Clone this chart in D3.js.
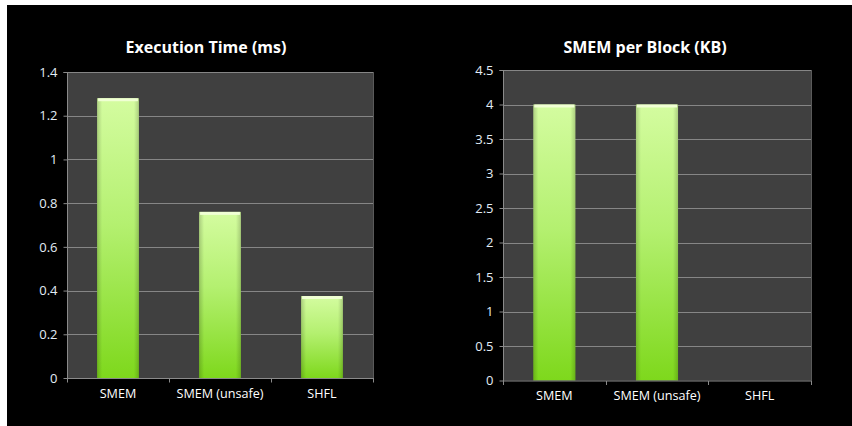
<!DOCTYPE html>
<html>
<head>
<meta charset="utf-8">
<script src="https://cdn.jsdelivr.net/npm/d3@7"></script>
<style>
  html, body { margin: 0; padding: 0; background: #ffffff; }
  svg { display: block; }
</style>
</head>
<body>
<svg id="chart" width="852" height="426"></svg>
<script>
// ---- data ----
const categories = ["SMEM", "SMEM (unsafe)", "SHFL"];
const execTime = [1.28, 0.76, 0.375];
const smemPerBlock = [4, 4, 0];
const execTicks = [0, 0.2, 0.4, 0.6, 0.8, 1, 1.2, 1.4];
const smemTicks = [0, 0.5, 1, 1.5, 2, 2.5, 3, 3.5, 4, 4.5];
const titles = ["Execution Time (ms)", "SMEM per Block (KB)"];

const svg = d3.select("#chart");
svg.append("rect").attr("x", 7).attr("y", 5).attr("width", 845).attr("height", 421).attr("fill", "#000000");

const defs = svg.append("defs");
const grad = defs.append("linearGradient").attr("id", "barGrad")
  .attr("x1", 0).attr("y1", 0).attr("x2", 0).attr("y2", 1);
grad.append("stop").attr("offset", "0%").attr("stop-color", "#d4fca0");
grad.append("stop").attr("offset", "45%").attr("stop-color", "#b4f070");
grad.append("stop").attr("offset", "100%").attr("stop-color", "#7ed81c");
const sideGrad = defs.append("linearGradient").attr("id", "sideGrad")
  .attr("x1", 0).attr("y1", 0).attr("x2", 1).attr("y2", 0);
sideGrad.append("stop").attr("offset", "0%").attr("stop-color", "#000").attr("stop-opacity", 0.18);
sideGrad.append("stop").attr("offset", "12%").attr("stop-color", "#000").attr("stop-opacity", 0);
sideGrad.append("stop").attr("offset", "88%").attr("stop-color", "#000").attr("stop-opacity", 0);
sideGrad.append("stop").attr("offset", "100%").attr("stop-color", "#000").attr("stop-opacity", 0.18);

const font = "'Open Sans', 'DejaVu Sans', sans-serif";

function drawChart(cfg) {
  const {x0, x1, y0, y1, values, ticks, max, title, titleX, fmt} = cfg;
  const g = svg.append("g");
  const x = d3.scaleBand().domain(categories).range([x0, x1]).paddingInner(0).paddingOuter(0);
  const y = d3.scaleLinear().domain([0, max]).range([y1, y0]);

  g.append("rect").attr("x", x0).attr("y", y0).attr("width", x1 - x0).attr("height", y1 - y0)
    .attr("fill", "#404040");

  // gridlines
  g.selectAll(".grid").data(ticks.filter(t => t > 0)).join("line")
    .attr("x1", x0).attr("x2", x1)
    .attr("y1", d => Math.round(y(d)) + 0.5).attr("y2", d => Math.round(y(d)) + 0.5)
    .attr("stroke", "#868686").attr("stroke-width", 1);

  // right border
  g.append("line").attr("x1", x1 + 0.5).attr("x2", x1 + 0.5).attr("y1", y0).attr("y2", y1)
    .attr("stroke", "#5a5a5a");

  // bars
  const bw = x.bandwidth() * 0.41;
  const bars = g.selectAll(".bar").data(values.map((v, i) => ({v, c: categories[i]})).filter(d => d.v > 0)).join("g");
  bars.append("rect")
    .attr("x", d => x(d.c) + (x.bandwidth() - bw) / 2)
    .attr("y", d => y(d.v))
    .attr("width", bw)
    .attr("height", d => y(0) - y(d.v))
    .attr("fill", "url(#barGrad)");
  bars.append("rect")
    .attr("x", d => x(d.c) + (x.bandwidth() - bw) / 2)
    .attr("y", d => y(d.v))
    .attr("width", bw)
    .attr("height", d => y(0) - y(d.v))
    .attr("fill", "url(#sideGrad)");
  bars.append("rect")
    .attr("x", d => x(d.c) + (x.bandwidth() - bw) / 2 + 1)
    .attr("y", d => y(d.v))
    .attr("width", bw - 2)
    .attr("height", 3)
    .attr("fill", "#f0ffd4");

  // y axis
  const yAxis = d3.axisLeft(y).tickValues(ticks).tickSize(4).tickPadding(6).tickFormat(fmt);
  const ya = g.append("g").attr("transform", `translate(${x0 + 0.5},0)`).call(yAxis);
  ya.select(".domain").attr("stroke", "#8a8a8a").attr("d", `M-4,${y0 + 0.5}H0V${y1 + 0.5}`);
  ya.selectAll(".tick line").attr("stroke", "#8a8a8a");
  ya.selectAll("text").attr("fill", "#e2ecf6").style("font-family", font).style("font-size", "13px");

  // x axis
  const xa = g.append("g").attr("transform", `translate(0,${y1 + 0.5})`);
  xa.append("line").attr("x1", x0).attr("x2", x1 + 1).attr("y1", 0).attr("y2", 0).attr("stroke", "#8a8a8a");
  const bounds = categories.map(c => x(c)).concat([x1]);
  xa.selectAll(".xt").data(bounds).join("line")
    .attr("x1", d => Math.round(d) + 0.5).attr("x2", d => Math.round(d) + 0.5)
    .attr("y1", 0).attr("y2", 4).attr("stroke", "#8a8a8a");
  xa.selectAll(".xl").data(categories).join("text")
    .attr("x", d => x(d) + x.bandwidth() / 2)
    .attr("y", 19)
    .attr("text-anchor", "middle")
    .attr("fill", "#ffffff")
    .style("font-family", font).style("font-size", "12.6px")
    .text(d => d);

  // title
  svg.append("text").attr("x", titleX).attr("y", 53).attr("text-anchor", "middle")
    .attr("fill", "#ffffff").style("font-family", font).style("font-weight", "bold").style("font-size", "16px")
    .text(title);
}

drawChart({x0: 67, x1: 373, y0: 72, y1: 378, values: execTime, ticks: execTicks, max: 1.4,
  title: titles[0], titleX: 206, fmt: d => d3.format("")(d)});
drawChart({x0: 503, x1: 811, y0: 70, y1: 380.5, values: smemPerBlock, ticks: smemTicks, max: 4.5,
  title: titles[1], titleX: 645, fmt: d => d3.format("")(d)});
</script>
</body>
</html>
